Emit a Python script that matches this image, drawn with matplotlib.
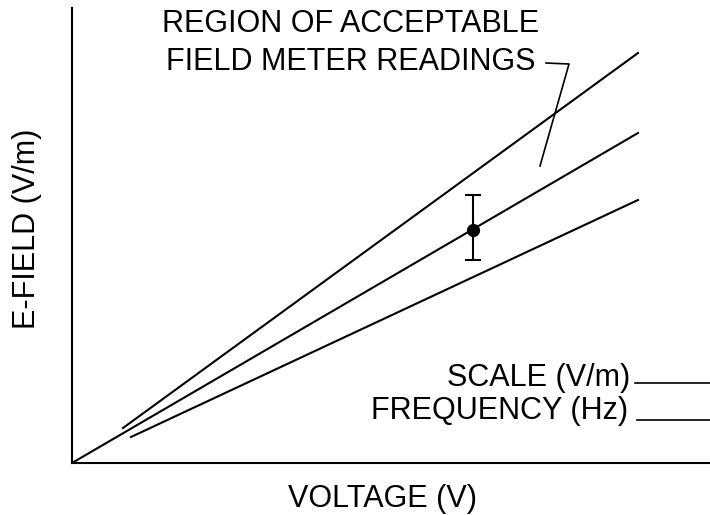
import matplotlib
matplotlib.use("Agg")
import matplotlib.pyplot as plt

plt.rcParams['font.family'] = ['Liberation Sans', 'DejaVu Sans']

# band of acceptable readings, E-field vs voltage (arbitrary units)
upper_v = [51, 566]
upper_e = [35, 410]
nominal_v = [0, 566]
nominal_e = [0, 330]
lower_v = [59, 566]
lower_e = [26, 263]

# measured point with error bar
meas_v = [401]
meas_e = [233]
meas_err = [[30], [35]]

title_lines = ["REGION OF ACCEPTABLE", "FIELD METER READINGS"]
legend_labels = ["SCALE (V/m)", "FREQUENCY (Hz)"]

fig = plt.figure(figsize=(7.1, 5.15), dpi=100)
ax = fig.add_axes([72 / 710, 52 / 515, 638 / 710, 455 / 515])
ax.set_xlim(0, 638)
ax.set_ylim(0, 455)

lw = 1.5
ax.plot(upper_v, upper_e, color='black', lw=lw)
ax.plot(nominal_v, nominal_e, color='black', lw=lw)
ax.plot(lower_v, lower_e, color='black', lw=lw)
ax.errorbar(meas_v, meas_e, yerr=meas_err, fmt='o', color='black',
            ms=8.5, capsize=5.5, elinewidth=1.5, capthick=1.5)

# leader from the label into the band
ax.plot([474, 497, 468], [400, 399, 297], color='black', lw=1.2)

fs = 22
ax.text(279, 431, title_lines[0], ha='center', va='baseline', fontsize=fs)
ax.text(279, 393, title_lines[1], ha='center', va='baseline', fontsize=fs)

ax.text(558, 77, legend_labels[0], ha='right', va='baseline', fontsize=fs)
ax.plot([563, 638], [80, 80], color='black', lw=1.2, clip_on=False)
ax.text(556, 44, legend_labels[1], ha='right', va='baseline', fontsize=fs)
ax.plot([565, 638], [43, 43], color='black', lw=1.2, clip_on=False)

ax.text(311, -44, "VOLTAGE (V)", ha='center', va='baseline', fontsize=fs,
        clip_on=False)
ax.text(-37, 234, "E-FIELD (V/m)", ha='center', va='baseline', fontsize=fs,
        rotation=90, rotation_mode='anchor', clip_on=False)

for s in ['top', 'right']:
    ax.spines[s].set_visible(False)
for s in ['left', 'bottom']:
    ax.spines[s].set_linewidth(1.5)
ax.set_xticks([])
ax.set_yticks([])

fig.savefig("out.png", dpi=100)
